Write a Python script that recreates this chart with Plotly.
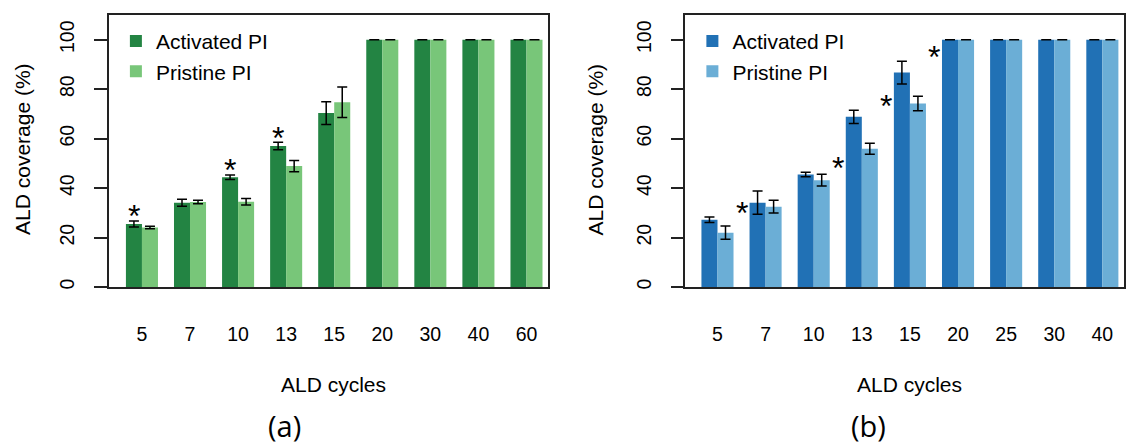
import plotly.graph_objects as go

# ---------------- data ----------------
cycles_a = ["5", "7", "10", "13", "15", "20", "30", "40", "60"]
act_a = [25.5, 34.1, 44.4, 57.0, 70.3, 100, 100, 100, 100]
act_a_err = [1.2, 1.4, 0.9, 1.5, 4.6, 0.0, 0.0, 0.0, 0.0]
pri_a = [24.1, 34.4, 34.5, 48.9, 74.7, 100, 100, 100, 100]
pri_a_err = [0.5, 0.7, 1.3, 2.3, 6.2, 0.0, 0.0, 0.0, 0.0]
star_a_idx = [0, 2, 3]          # groups marked with * (above activated bar)
star_a_y = [31.5, 50.0, 62.9]

cycles_b = ["5", "7", "10", "13", "15", "20", "25", "30", "40"]
act_b = [27.2, 34.1, 45.5, 68.8, 86.7, 100, 100, 100, 100]
act_b_err = [1.1, 4.7, 0.9, 2.7, 4.6, 0.0, 0.0, 0.0, 0.0]
pri_b = [22.0, 32.5, 43.2, 55.9, 74.2, 100, 100, 100, 100]
pri_b_err = [2.7, 2.6, 2.4, 2.2, 2.9, 0.0, 0.0, 0.0, 0.0]
star_b_idx = [1, 3, 4, 5]       # * placed in the gap before these groups
star_b_y = [32.7, 50.8, 76.2, 96.0]

y_ticks = [0, 20, 40, 60, 80, 100]

# ---------------- styling ----------------
W, H = 1126, 446
FONT = "Liberation Sans, Arial, sans-serif"
DARK_G, LIGHT_G = "#238443", "#78c679"
DARK_B, LIGHT_B = "#2171b5", "#6baed6"
AXC = "#222222"

def px_x(p):
    return p / W

def px_y(p):  # p measured from top
    return 1 - p / H

fig = go.Figure()

def add_pair(xaxis, yaxis, cats, a, ae, p, pe, c1, c2, legend):
    idx = list(range(len(cats)))
    err_style = dict(type="data", visible=True, color="black", thickness=1.5, width=5)
    fig.add_trace(go.Bar(x=idx, y=a, name="Activated PI", marker=dict(color=c1, line=dict(width=0)),
                         error_y=dict(array=ae, **err_style), xaxis=xaxis, yaxis=yaxis,
                         legend=legend, offsetgroup="act" + xaxis))
    fig.add_trace(go.Bar(x=idx, y=p, name="Pristine PI", marker=dict(color=c2, line=dict(width=0)),
                         error_y=dict(array=pe, **err_style), xaxis=xaxis, yaxis=yaxis,
                         legend=legend, offsetgroup="pri" + xaxis))

add_pair("x", "y", cycles_a, act_a, act_a_err, pri_a, pri_a_err, DARK_G, LIGHT_G, "legend")
add_pair("x2", "y2", cycles_b, act_b, act_b_err, pri_b, pri_b_err, DARK_B, LIGHT_B, "legend2")

# asterisks
annotations = []
STAR_FONT = dict(family=FONT, size=32, color="black")
for i, yv in zip(star_a_idx, star_a_y):
    annotations.append(dict(x=i - 1 / 6, y=yv, xref="x", yref="y", text="*", showarrow=False,
                            font=STAR_FONT, yshift=-7))
for i, yv in zip(star_b_idx, star_b_y):
    annotations.append(dict(x=i - 0.5, y=yv, xref="x2", yref="y2", text="*", showarrow=False,
                            font=STAR_FONT, yshift=-7))

# axis titles / panel labels
for xc, yt in [(23, "ALD coverage (%)"), (597, "ALD coverage (%)")]:
    annotations.append(dict(x=px_x(xc), y=px_y(150), xref="paper", yref="paper", text=yt,
                            textangle=-90, showarrow=False, font=dict(family=FONT, size=21, color="black"),
                            xanchor="center", yanchor="middle"))
for xc in [334, 910]:
    annotations.append(dict(x=px_x(xc), y=px_y(387), xref="paper", yref="paper", text="ALD cycles",
                            showarrow=False, font=dict(family=FONT, size=21, color="black"),
                            xanchor="center", yanchor="middle"))
for xc, t in [(285, "(a)"), (869, "(b)")]:
    annotations.append(dict(x=px_x(xc), y=px_y(428), xref="paper", yref="paper", text=t,
                            showarrow=False, font=dict(family="Open Sans, sans-serif", size=29, color="black"),
                            xanchor="center", yanchor="middle"))

ydom = [1 - 289 / H, 1 - 15 / H]

def xaxis_cfg(dom, rng, cats):
    return dict(domain=dom, range=rng, tickmode="array", tickvals=list(range(len(cats))),
                ticktext=cats, ticks="", showline=True, mirror=True, linecolor=AXC, linewidth=1.5,
                showgrid=False, zeroline=False, ticklabelstandoff=29,
                tickfont=dict(family=FONT, size=19.5, color="black"), fixedrange=True)

def yaxis_cfg(anchor):
    return dict(domain=ydom, range=[0, 110], anchor=anchor, tickmode="array", tickvals=y_ticks,
                ticks="outside", ticklen=13, tickwidth=1.5, tickcolor=AXC, tickangle=-90,
                showline=True, mirror=True, linecolor=AXC, linewidth=1.5, showgrid=False,
                zeroline=False, ticklabelstandoff=12,
                tickfont=dict(family=FONT, size=19.5, color="black"), fixedrange=True)

legend_common = dict(font=dict(family=FONT, size=21, color="black"), bgcolor="rgba(0,0,0,0)",
                     xanchor="left", yanchor="top", borderwidth=0, tracegroupgap=0)

fig.update_layout(
    width=W, height=H, margin=dict(l=0, r=0, t=0, b=0),
    paper_bgcolor="white", plot_bgcolor="white",
    barmode="group", bargap=1 / 3, bargroupgap=0,
    xaxis=xaxis_cfg([px_x(109), px_x(548)], [-0.6875, 8.4375], cycles_a),
    yaxis=yaxis_cfg("x"),
    xaxis2=xaxis_cfg([px_x(686), px_x(1125)], [-0.667, 8.45], cycles_b),
    yaxis2=yaxis_cfg("x2"),
    legend=dict(x=px_x(116), y=px_y(21), **legend_common),
    legend2=dict(x=px_x(693), y=px_y(21), **legend_common),
    annotations=annotations,
    showlegend=True,
)

fig.write_html("out.html", config={"displayModeBar": False},
               post_script="document.body.style.margin='0';document.body.style.overflow='hidden';")
